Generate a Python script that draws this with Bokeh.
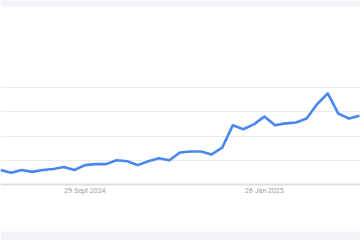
import pandas as pd
from bokeh.plotting import figure
from bokeh.models import Range1d, Grid, FixedTicker, Span, BoxAnnotation, ColumnDataSource
from bokeh.core.properties import value
from bokeh.embed import file_html
from bokeh.resources import INLINE

# ---- data ----
weeks = list(pd.date_range("2024-08-04", periods=35, freq="7D").strftime("%Y-%m-%d"))
interest = [15, 12, 15, 13, 15, 16, 18, 15, 20, 21, 21, 25, 24, 20, 24, 27, 25,
            33, 34, 34, 31, 38, 61, 57, 62, 70, 61, 63, 64, 68, 83, 94, 73, 68, 71]
tick_dates = ["2024-09-29", "2025-01-26"]
tick_labels = ["29 Sept 2024", "26 Jan 2025"]
grid_values = [25, 50, 75, 100]

# ---- layout geometry (pixels) ----
W, H = 360, 240
base_px, top_px = 184, 87          # pixel rows of value 0 and 100
px_per_unit = (base_px - top_px) / 100.0
y_hi = base_px / px_per_unit
y_lo = y_hi - H / px_per_unit

def px_to_val(py):
    return y_hi - py / px_per_unit

x = list(range(len(weeks)))
p = figure(width=W, height=H, output_backend="svg", toolbar_location=None,
           x_axis_location=None, y_axis_location=None,
           x_range=Range1d(0, 34.1), y_range=Range1d(y_lo, y_hi),
           min_border=0, min_border_left=0, min_border_right=0,
           min_border_top=0, min_border_bottom=0)
p.outline_line_color = None
p.background_fill_color = "white"
p.border_fill_color = "white"
for gr in p.grid:
    gr.visible = False

# gray bands top and bottom
band = "#f1f3f7"
p.add_layout(BoxAnnotation(bottom=px_to_val(6), top=y_hi + 10, fill_color=band,
                           fill_alpha=1, line_color=None, level="underlay"))
p.add_layout(BoxAnnotation(top=px_to_val(231), bottom=y_lo - 10, fill_color=band,
                           fill_alpha=1, line_color=None, level="underlay"))

# gridlines
g = Grid(dimension=1, ticker=FixedTicker(ticks=grid_values),
         grid_line_color="#ebebeb", grid_line_width=1)
p.add_layout(g)
p.add_layout(Span(location=0, dimension="width", line_color="#dedede", line_width=2))

# series
p.line(x, interest, line_color="#4a86f0", line_width=2.6, line_join="round")

# tick labels
tick_x = [weeks.index(d) for d in tick_dates]
src = ColumnDataSource(dict(x=tick_x, y=[px_to_val(190)] * len(tick_x), t=tick_labels))
p.text(x="x", y="y", text="t", source=src, text_align="center", text_baseline="middle",
       text_font=value("Roboto"), text_font_size="7px", text_color="#a0a0a0")

open("out.html", "w").write(file_html(p, INLINE))
